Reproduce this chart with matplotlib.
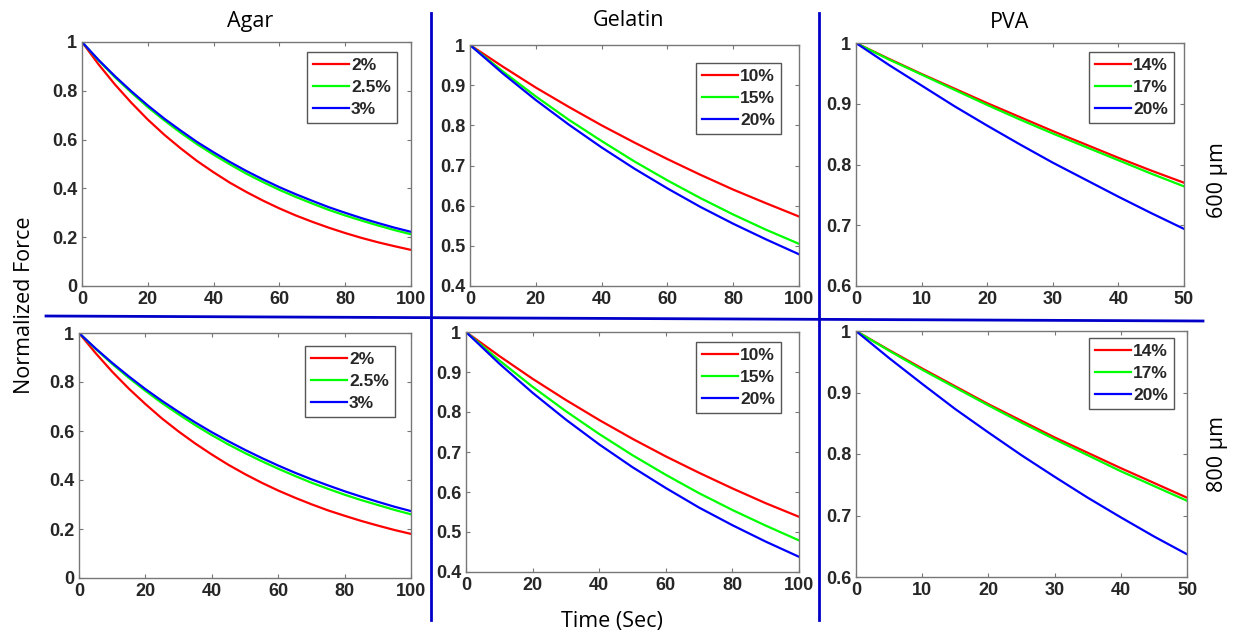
import matplotlib.pyplot as plt
from matplotlib.lines import Line2D

# time axes (s)
t_agar = [0, 5, 10, 15, 20, 25, 30, 35, 40, 45, 50, 55, 60, 65, 70, 75, 80, 85, 90, 95, 100]
t_gel = [0, 10, 20, 30, 40, 50, 60, 70, 80, 90, 100]
t_pva = [0, 5, 10, 15, 20, 25, 30, 35, 40, 45, 50]

# normalized force, 600 um
agar600_2 = [1, 0.909, 0.826, 0.751, 0.682, 0.620, 0.564, 0.512, 0.466, 0.423, 0.385,
             0.350, 0.318, 0.289, 0.263, 0.239, 0.217, 0.197, 0.179, 0.163, 0.148]
agar600_25 = [1, 0.925, 0.856, 0.793, 0.733, 0.679, 0.628, 0.581, 0.538, 0.498, 0.460,
              0.426, 0.394, 0.365, 0.338, 0.312, 0.289, 0.268, 0.248, 0.229, 0.212]
agar600_3 = [1, 0.927, 0.860, 0.798, 0.740, 0.686, 0.637, 0.590, 0.548, 0.508, 0.471,
             0.437, 0.405, 0.376, 0.349, 0.323, 0.300, 0.278, 0.258, 0.239, 0.222]
gel600_10 = [1, 0.946, 0.894, 0.846, 0.800, 0.757, 0.716, 0.677, 0.640, 0.606, 0.573]
gel600_15 = [1, 0.934, 0.872, 0.814, 0.761, 0.710, 0.663, 0.619, 0.578, 0.540, 0.505]
gel600_20 = [1, 0.929, 0.863, 0.802, 0.745, 0.692, 0.643, 0.597, 0.555, 0.516, 0.479]
pva600_14 = [1, 0.974, 0.949, 0.925, 0.901, 0.878, 0.855, 0.833, 0.811, 0.790, 0.770]
pva600_17 = [1, 0.973, 0.948, 0.923, 0.898, 0.874, 0.851, 0.829, 0.807, 0.785, 0.764]
pva600_20 = [1, 0.964, 0.930, 0.896, 0.864, 0.833, 0.803, 0.775, 0.747, 0.720, 0.694]

# normalized force, 800 um
agar800_2 = [1, 0.918, 0.842, 0.773, 0.710, 0.651, 0.598, 0.549, 0.504, 0.462, 0.424,
             0.389, 0.357, 0.328, 0.301, 0.276, 0.254, 0.233, 0.214, 0.196, 0.180]
agar800_25 = [1, 0.935, 0.874, 0.817, 0.764, 0.714, 0.668, 0.624, 0.583, 0.545, 0.510,
              0.477, 0.446, 0.417, 0.389, 0.364, 0.340, 0.318, 0.298, 0.278, 0.260]
agar800_3 = [1, 0.937, 0.878, 0.823, 0.771, 0.723, 0.678, 0.635, 0.595, 0.558, 0.523,
             0.490, 0.459, 0.430, 0.403, 0.378, 0.354, 0.332, 0.311, 0.291, 0.273]
gel800_10 = [1, 0.940, 0.883, 0.830, 0.780, 0.733, 0.689, 0.648, 0.609, 0.572, 0.538]
gel800_15 = [1, 0.929, 0.863, 0.802, 0.745, 0.692, 0.643, 0.597, 0.555, 0.516, 0.479]
gel800_20 = [1, 0.921, 0.848, 0.781, 0.719, 0.662, 0.610, 0.561, 0.517, 0.476, 0.438]
pva800_14 = [1, 0.969, 0.939, 0.910, 0.881, 0.854, 0.827, 0.802, 0.777, 0.753, 0.729]
pva800_17 = [1, 0.968, 0.937, 0.908, 0.879, 0.851, 0.824, 0.798, 0.772, 0.748, 0.724]
pva800_20 = [1, 0.956, 0.914, 0.873, 0.835, 0.798, 0.763, 0.729, 0.697, 0.666, 0.637]

agar_labels = ['2%', '2.5%', '3%']
gel_labels = ['10%', '15%', '20%']
pva_labels = ['14%', '17%', '20%']

colors = ['#ff0000', '#00ff00', '#0000ff']

W, H = 1235, 639
fig = plt.figure(figsize=(W / 100, H / 100), dpi=100)
fig.patch.set_facecolor('white')


def px_axes(x0, x1, y0, y1):
    # pixel box (top-left origin) -> figure axes
    return fig.add_axes([x0 / W, 1 - y1 / H, (x1 - x0) / W, (y1 - y0) / H])


def panel(box, t, series, labels, xlim, ylim, xticks, yticks, ytl, leg_off):
    ax = px_axes(*box)
    for y, lab, c in zip(series, labels, colors):
        ax.plot(t, y, color=c, lw=1.6, label=lab)
    ax.set_xlim(*xlim)
    ax.set_ylim(*ylim)
    ax.set_xticks(xticks)
    ax.set_yticks(yticks)
    ax.set_yticklabels(ytl)
    ax.tick_params(direction='in', top=True, right=True, length=3,
                   width=0.8, color='#777777', labelsize=13, pad=3.5)
    for lb in ax.get_xticklabels() + ax.get_yticklabels():
        lb.set_fontweight('bold')
        lb.set_color('#262626')
        lb.set_family('Liberation Sans')
    for s in ax.spines.values():
        s.set_color('#777777')
        s.set_linewidth(1.0)
    # legend corner offset from the axes' top-right corner, in pixels
    bw, bh = box[1] - box[0], box[3] - box[2]
    anchor = (1 - leg_off[0] / bw, 1 - leg_off[1] / bh)
    leg = ax.legend(loc='upper right', bbox_to_anchor=anchor, handlelength=2.1,
                    handletextpad=0.1, borderpad=0.35, labelspacing=0.38,
                    borderaxespad=0, fancybox=False, framealpha=1,
                    prop={'weight': 'bold', 'family': 'Liberation Sans', 'size': 12.5})
    leg.get_frame().set_edgecolor('#555555')
    leg.get_frame().set_linewidth(1.0)
    for txt in leg.get_texts():
        txt.set_color('#262626')
    return ax


t100 = [0, 20, 40, 60, 80, 100]
t50 = [0, 10, 20, 30, 40, 50]
y_agar = [0, 0.2, 0.4, 0.6, 0.8, 1]
y_gel = [0.4, 0.5, 0.6, 0.7, 0.8, 0.9, 1]
y_pva = [0.6, 0.7, 0.8, 0.9, 1]
yl_agar = ['0', '0.2', '0.4', '0.6', '0.8', '1']
yl_gel = ['0.4', '0.5', '0.6', '0.7', '0.8', '0.9', '1']
yl_pva = ['0.6', '0.7', '0.8', '0.9', '1']

panel((82, 411, 42, 286), t_agar, [agar600_2, agar600_25, agar600_3], agar_labels,
      (0, 100), (0, 1), t100, y_agar, yl_agar, (14, 10))
panel((470, 799, 45, 286), t_gel, [gel600_10, gel600_15, gel600_20], gel_labels,
      (0, 100), (0.4, 1), t100, y_gel, yl_gel, (18, 18))
panel((856, 1184, 43, 286), t_pva, [pva600_14, pva600_17, pva600_20], pva_labels,
      (0, 50), (0.6, 1), t50, y_pva, yl_pva, (10, 9))

panel((79, 411, 333, 578), t_agar, [agar800_2, agar800_25, agar800_3], agar_labels,
      (0, 100), (0, 1), t100, y_agar, yl_agar, (16, 13))
panel((466, 799, 332, 572), t_gel, [gel800_10, gel800_15, gel800_20], gel_labels,
      (0, 100), (0.4, 1), t100, y_gel, yl_gel, (18, 10))
panel((856, 1187, 331, 577), t_pva, [pva800_14, pva800_17, pva800_20], pva_labels,
      (0, 50), (0.6, 1), t50, y_pva, yl_pva, (13, 7))

# column titles and axis labels
tfont = dict(family='Open Sans', size=15.5, color='black')
fig.text(250 / W, 1 - 22 / H, 'Agar', ha='center', va='center', **tfont)
fig.text(628 / W, 1 - 21 / H, 'Gelatin', ha='center', va='center', **tfont)
fig.text(1010 / W, 1 - 22 / H, 'PVA', ha='center', va='center', **tfont)
fig.text(612 / W, 1 - 622 / H, 'Time (Sec)', ha='center', va='center', **tfont)
fig.text(25 / W, 1 - 305 / H, 'Normalized Force', ha='center', va='center',
         rotation=90, **tfont)
fig.text(1217 / W, 1 - 180 / H, '600 µm', ha='center', va='center', rotation=90, **tfont)
fig.text(1218 / W, 1 - 454 / H, '800 µm', ha='center', va='center', rotation=90, **tfont)

# blue separators between panels
sep = '#0000c8'
fig.add_artist(Line2D([431 / W, 431 / W], [1 - 13 / H, 1 - 620 / H], color=sep, lw=2))
fig.add_artist(Line2D([819 / W, 819 / W], [1 - 13 / H, 1 - 620 / H], color=sep, lw=2))
fig.add_artist(Line2D([46 / W, 1203 / W], [1 - 316 / H, 1 - 321 / H], color=sep, lw=2))

fig.savefig('out.png', dpi=100)
